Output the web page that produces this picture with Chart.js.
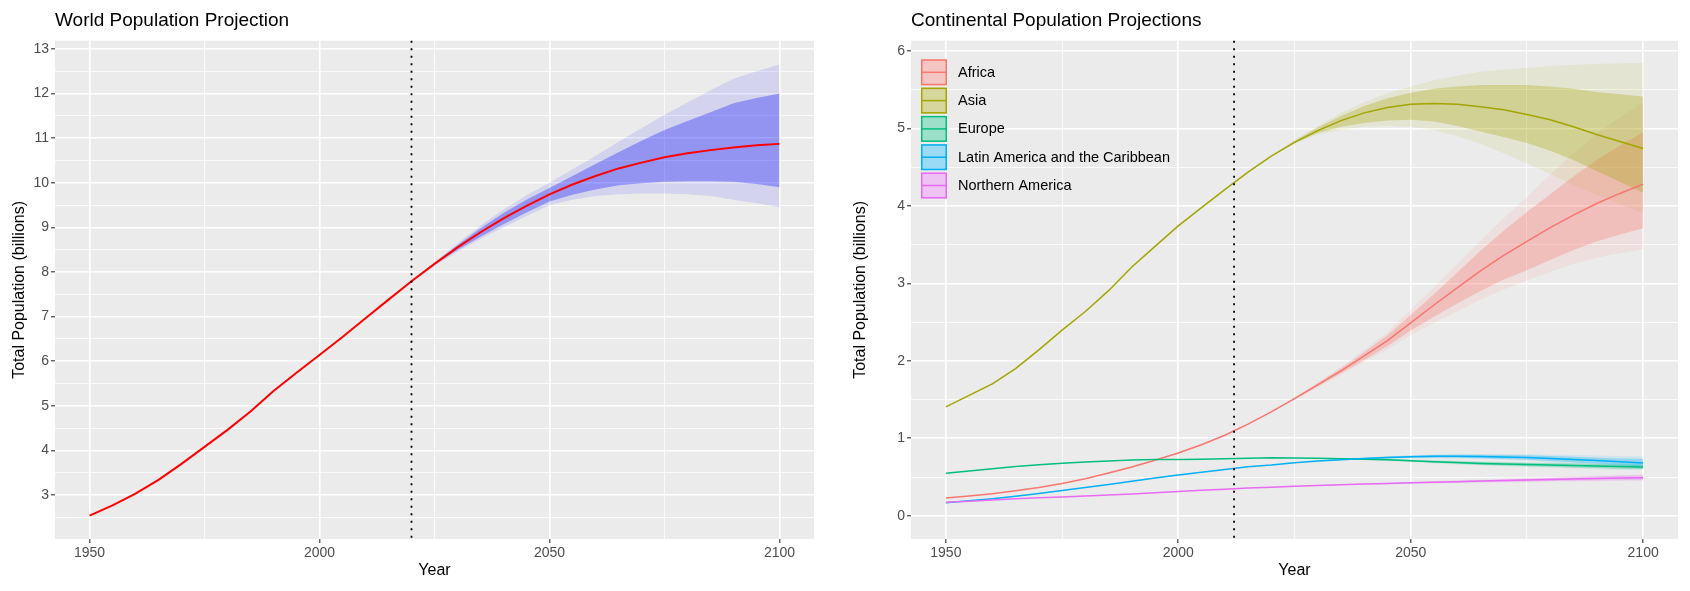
<!DOCTYPE html>
<html>
<head>
<meta charset="utf-8">
<script src="https://cdn.jsdelivr.net/npm/chart.js@4.4.1/dist/chart.umd.min.js"></script>
<style>
html, body { margin: 0; padding: 0; background: #fff; }
#wrap { display: flex; width: 1690px; height: 591px; }
canvas { display: block; }
</style>
</head>
<body>
<div id="wrap">
  <canvas id="worldChart" width="845" height="591"></canvas>
  <canvas id="contChart" width="845" height="591"></canvas>
</div>
<script>
// ---- data ----
const years = [1950,1955,1960,1965,1970,1975,1980,1985,1990,1995,2000,2005,2010,2015,2020,
  2025,2030,2035,2040,2045,2050,2055,2060,2065,2070,2075,2080,2085,2090,2095,2100];
const bandYears = [2020,2025,2030,2035,2040,2045,2050,2055,2060,2065,2070,2075,2080,2085,2090,2095,2100];

const worldMedian = [2.54,2.77,3.03,3.34,3.70,4.08,4.46,4.87,5.33,5.74,6.14,6.54,6.96,7.38,7.79,
  8.18,8.55,8.89,9.20,9.48,9.74,9.96,10.15,10.32,10.45,10.57,10.66,10.73,10.79,10.84,10.87];
const world95Lo = [7.79,8.14,8.45,8.74,9.00,9.25,9.50,9.62,9.70,9.74,9.76,9.76,9.74,9.70,9.62,9.54,9.45];
const world80Lo = [7.79,8.16,8.49,8.79,9.07,9.33,9.58,9.73,9.85,9.94,9.99,10.02,10.03,10.03,10.02,9.97,9.90];
const world80Hi = [7.79,8.20,8.60,8.98,9.32,9.62,9.88,10.15,10.42,10.68,10.94,11.18,11.38,11.58,11.78,11.90,12.00];
const world95Hi = [7.79,8.22,8.64,9.04,9.40,9.72,10.00,10.30,10.60,10.92,11.22,11.52,11.80,12.07,12.33,12.50,12.65];
const worldCutYear = 2020;

const continents = ['Africa','Asia','Europe','Latin America and the Caribbean','Northern America'];
const africaMedian = [0.228,0.254,0.285,0.322,0.364,0.416,0.478,0.551,0.630,0.717,0.811,0.916,1.039,1.182,1.341,
  1.512,1.688,1.871,2.063,2.260,2.489,2.72,2.94,3.16,3.36,3.54,3.72,3.88,4.03,4.16,4.28];
const asiaMedian = [1.405,1.553,1.701,1.899,2.142,2.395,2.636,2.905,3.210,3.476,3.741,3.978,4.209,4.434,4.641,
  4.82,4.97,5.10,5.20,5.27,5.31,5.32,5.31,5.28,5.24,5.18,5.11,5.02,4.92,4.83,4.74];
const europeMedian = [0.549,0.577,0.606,0.635,0.657,0.677,0.694,0.708,0.721,0.727,0.726,0.729,0.736,0.741,0.748,
  0.745,0.741,0.736,0.730,0.722,0.710,0.698,0.686,0.676,0.667,0.660,0.654,0.648,0.641,0.635,0.630];
const latamMedian = [0.169,0.193,0.220,0.253,0.288,0.325,0.364,0.404,0.446,0.486,0.526,0.563,0.598,0.632,0.654,
  0.684,0.706,0.724,0.740,0.753,0.762,0.767,0.768,0.765,0.759,0.751,0.740,0.727,0.712,0.697,0.682];
const northAmMedian = [0.173,0.187,0.204,0.219,0.231,0.242,0.255,0.268,0.280,0.296,0.313,0.328,0.343,0.357,0.369,
  0.380,0.391,0.401,0.409,0.416,0.425,0.432,0.440,0.447,0.454,0.461,0.468,0.475,0.481,0.486,0.491];

const africa95Lo = [1.34,1.50,1.66,1.82,1.99,2.15,2.33,2.49,2.64,2.79,2.92,3.04,3.15,3.25,3.33,3.39,3.44];
const africa80Lo = [1.34,1.50,1.67,1.84,2.01,2.19,2.39,2.57,2.74,2.90,3.05,3.17,3.30,3.43,3.54,3.63,3.71];
const africa80Hi = [1.34,1.52,1.71,1.90,2.11,2.33,2.59,2.86,3.14,3.42,3.68,3.92,4.15,4.38,4.59,4.78,4.95];
const africa95Hi = [1.34,1.53,1.72,1.92,2.14,2.37,2.66,2.95,3.25,3.55,3.84,4.11,4.40,4.68,4.93,5.14,5.33];

const asia95Lo = [4.64,4.80,4.92,4.98,5.02,5.03,5.02,4.98,4.90,4.80,4.68,4.55,4.41,4.27,4.14,4.02,3.91];
const asia80Lo = [4.64,4.81,4.94,5.02,5.07,5.10,5.11,5.09,5.03,4.96,4.89,4.81,4.71,4.59,4.45,4.31,4.17];
const asia80Hi = [4.64,4.84,5.01,5.16,5.29,5.39,5.46,5.51,5.54,5.56,5.56,5.56,5.54,5.51,5.47,5.44,5.41];
const asia95Hi = [4.64,4.85,5.03,5.20,5.34,5.45,5.54,5.62,5.68,5.73,5.76,5.78,5.80,5.82,5.83,5.84,5.84];

const europe95Lo = [0.748,0.743,0.736,0.728,0.719,0.708,0.693,0.678,0.663,0.650,0.638,0.628,0.619,0.610,0.601,0.593,0.586];
const europe80Lo = [0.748,0.744,0.738,0.731,0.723,0.713,0.699,0.685,0.671,0.659,0.648,0.639,0.631,0.623,0.615,0.608,0.602];
const europe80Hi = [0.748,0.746,0.744,0.741,0.737,0.731,0.721,0.711,0.701,0.693,0.686,0.681,0.677,0.673,0.667,0.662,0.658];
const europe95Hi = [0.748,0.747,0.746,0.744,0.741,0.736,0.727,0.718,0.709,0.702,0.696,0.692,0.689,0.686,0.681,0.677,0.674];

const latam95Lo = [0.654,0.682,0.701,0.716,0.728,0.737,0.742,0.743,0.740,0.732,0.722,0.710,0.694,0.677,0.657,0.638,0.605];
const latam80Lo = [0.654,0.683,0.703,0.719,0.732,0.742,0.748,0.750,0.748,0.742,0.733,0.722,0.708,0.692,0.674,0.656,0.632];
const latam80Hi = [0.654,0.685,0.709,0.729,0.748,0.764,0.776,0.784,0.788,0.788,0.785,0.780,0.772,0.762,0.750,0.740,0.735];
const latam95Hi = [0.654,0.686,0.711,0.732,0.752,0.769,0.782,0.791,0.796,0.798,0.797,0.793,0.789,0.784,0.778,0.772,0.768];

const northAm95Lo = [0.369,0.379,0.388,0.396,0.402,0.407,0.413,0.418,0.423,0.428,0.432,0.436,0.440,0.443,0.446,0.448,0.450];
const northAm80Lo = [0.369,0.379,0.389,0.398,0.404,0.410,0.417,0.422,0.428,0.434,0.439,0.443,0.448,0.452,0.455,0.458,0.460];
const northAm80Hi = [0.369,0.381,0.393,0.404,0.414,0.422,0.433,0.442,0.452,0.460,0.469,0.479,0.488,0.498,0.507,0.516,0.524];
const northAm95Hi = [0.369,0.381,0.394,0.406,0.416,0.425,0.437,0.447,0.457,0.466,0.476,0.486,0.496,0.507,0.517,0.527,0.536];
const contCutYear = 2012;

const xMajorTicks = [1950,2000,2050,2100];
const xMinorTicks = [1975,2025,2075];
const worldYMajorTicks = [3,4,5,6,7,8,9,10,11,12,13];
const worldYMinorTicks = [2.5,3.5,4.5,5.5,6.5,7.5,8.5,9.5,10.5,11.5,12.5];
const contYMajorTicks = [0,1,2,3,4,5,6];
const contYMinorTicks = [0.5,1.5,2.5,3.5,4.5,5.5];

// ---- styling helpers ----
const FONT = '"Liberation Sans", Arial, Helvetica, sans-serif';
Chart.defaults.font.family = FONT;
const contColors = ['#F8766D','#A3A500','#00BF7D','#00B0F6','#E76BF3'];

function rgba(hex, a) {
  const n = parseInt(hex.slice(1), 16);
  return `rgba(${(n >> 16) & 255},${(n >> 8) & 255},${n & 255},${a})`;
}
const pts = (xs, ys) => xs.map((x, i) => ({x: x, y: ys[i]}));

function axis(major, minor, min, max, size, horizontal, title, titlePad) {
  return {
    type: 'linear', min: min, max: max,
    afterBuildTicks: (scale) => {
      scale.ticks = major.concat(minor).sort((a, b) => a - b).map(v => ({value: v}));
    },
    afterFit: (scale) => {
      if (horizontal) scale.height = size; else scale.width = size;
    },
    border: {display: false},
    grid: {
      color: '#FFFFFF',
      lineWidth: (c) => major.includes(c.tick.value) ? 1.6 : 0.8,
      drawTicks: true,
      tickLength: 4,
      tickWidth: 1.1,
      tickColor: (c) => major.includes(c.tick.value) ? '#333333' : 'rgba(0,0,0,0)'
    },
    ticks: {
      autoSkip: false, maxRotation: 0, padding: 2,
      color: '#4D4D4D', font: {size: 14},
      callback: (v) => major.includes(v) ? String(v) : ''
    },
    title: {
      display: true, text: title, color: '#000', font: {size: 16},
      padding: horizontal ? {top: 0, bottom: titlePad} : {top: titlePad, bottom: 0}
    }
  };
}

const panelBg = {
  id: 'panelBg',
  beforeDraw(chart) {
    const {ctx, chartArea: a} = chart;
    ctx.save();
    ctx.fillStyle = '#EBEBEB';
    ctx.fillRect(a.left, a.top, a.right - a.left, a.bottom - a.top);
    ctx.restore();
  }
};

const vline = {
  id: 'vline',
  afterDatasetsDraw(chart, args, opts) {
    const {ctx, chartArea: a, scales} = chart;
    const x = scales.x.getPixelForValue(opts.year);
    ctx.save();
    ctx.strokeStyle = '#000';
    ctx.lineWidth = 1.8;
    ctx.setLineDash([2, 5.5]);
    ctx.beginPath();
    ctx.moveTo(x, a.top);
    ctx.lineTo(x, a.bottom);
    ctx.stroke();
    ctx.restore();
  }
};

const keyLegend = {
  id: 'keyLegend',
  afterDraw(chart, args, opts) {
    if (!opts.labels) return;
    const {ctx, chartArea: a} = chart;
    ctx.save();
    opts.labels.forEach((lab, i) => {
      const x = a.left + 10, y = a.top + 18.5 + i * 28.3, w = 26, h = 26;
      ctx.fillStyle = '#F2F2F2';
      ctx.fillRect(x, y, w, h);
      ctx.fillStyle = rgba(opts.colors[i], 0.35);
      ctx.fillRect(x, y, w, h);
      ctx.strokeStyle = opts.colors[i];
      ctx.lineWidth = 1.5;
      ctx.strokeRect(x + 0.75, y + 0.75, w - 1.5, h - 1.5);
      ctx.beginPath();
      ctx.moveTo(x + 0.75, y + h / 2);
      ctx.lineTo(x + w - 0.75, y + h / 2);
      ctx.stroke();
      ctx.fillStyle = '#000';
      ctx.font = '14.5px ' + FONT;
      ctx.textBaseline = 'middle';
      ctx.fillText(lab, x + w + 11, y + h / 2 + 0.5);
    });
    ctx.restore();
  }
};

function titleOpts(text) {
  return {
    display: true, text: text, align: 'start', fullSize: false,
    color: '#000', font: {size: 19, weight: 'normal'},
    padding: {top: 9, bottom: 9}
  };
}

const hidden = {borderColor: 'rgba(0,0,0,0)', borderWidth: 0, pointRadius: 0, fill: false};

// ---- world chart ----
const worldSets = [];
function addBand(sets, lo, hi, color, order) {
  sets.push(Object.assign({data: pts(bandYears, lo), order: order}, hidden));
  sets.push(Object.assign({}, hidden, {data: pts(bandYears, hi), fill: sets.length - 1,
    backgroundColor: color, order: order}));
}
addBand(worldSets, world95Lo, world95Hi, 'rgba(0,0,255,0.1)', 30);
addBand(worldSets, world80Lo, world80Hi, 'rgba(0,0,255,0.3)', 20);
worldSets.push({data: pts(years, worldMedian), borderColor: '#FF0000', borderWidth: 2,
  pointRadius: 0, fill: false, tension: 0, order: 10});

new Chart(document.getElementById('worldChart'), {
  type: 'line',
  data: {datasets: worldSets},
  plugins: [panelBg, vline],
  options: {
    responsive: false, animation: false, events: [],
    layout: {padding: {left: 0, right: 31, top: 0, bottom: 0}},
    scales: {
      x: axis(xMajorTicks, xMinorTicks, 1942.5, 2107.5, 52, true, 'Year', 10.4),
      y: axis(worldYMajorTicks, worldYMinorTicks, 2.015, 13.18, 55, false, 'Total Population (billions)', 9.5)
    },
    plugins: {
      legend: {display: false}, tooltip: {enabled: false},
      title: titleOpts('World Population Projection'),
      vline: {year: worldCutYear}
    }
  }
});

// ---- continental chart ----
const contMedians = [africaMedian, asiaMedian, europeMedian, latamMedian, northAmMedian];
const cont95Lo = [africa95Lo, asia95Lo, europe95Lo, latam95Lo, northAm95Lo];
const cont80Lo = [africa80Lo, asia80Lo, europe80Lo, latam80Lo, northAm80Lo];
const cont80Hi = [africa80Hi, asia80Hi, europe80Hi, latam80Hi, northAm80Hi];
const cont95Hi = [africa95Hi, asia95Hi, europe95Hi, latam95Hi, northAm95Hi];

const contSets = [];
let ord = 100;
continents.forEach((c, i) => addBand(contSets, cont95Lo[i], cont95Hi[i], rgba(contColors[i], 0.1), ord--));
continents.forEach((c, i) => addBand(contSets, cont80Lo[i], cont80Hi[i], rgba(contColors[i], 0.3), ord--));
continents.forEach((c, i) => contSets.push({data: pts(years, contMedians[i]), borderColor: contColors[i],
  borderWidth: 1.5, pointRadius: 0, fill: false, tension: 0, order: ord--}));

new Chart(document.getElementById('contChart'), {
  type: 'line',
  data: {datasets: contSets},
  plugins: [panelBg, vline, keyLegend],
  options: {
    responsive: false, animation: false, events: [],
    layout: {padding: {left: 0, right: 12, top: 0, bottom: 0}},
    scales: {
      x: axis(xMajorTicks, xMinorTicks, 1942.5, 2107.5, 52, true, 'Year', 10.4),
      y: axis(contYMajorTicks, contYMinorTicks, -0.30, 6.13, 66, false, 'Total Population (billions)', 6)
    },
    plugins: {
      legend: {display: false}, tooltip: {enabled: false},
      title: titleOpts('Continental Population Projections'),
      vline: {year: contCutYear},
      keyLegend: {labels: continents, colors: contColors}
    }
  }
});
</script>
</body>
</html>
